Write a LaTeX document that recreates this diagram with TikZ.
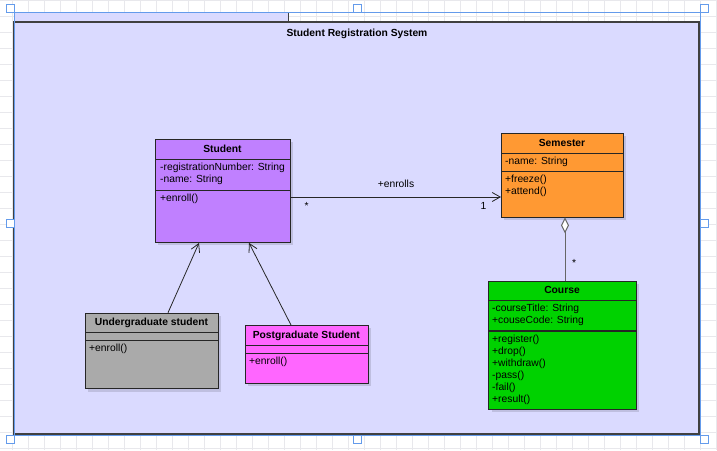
\documentclass[tikz,border=0pt]{standalone}
\usepackage{fontspec}
\setmainfont{Liberation Sans}
\usetikzlibrary{arrows.meta,shadows,calc}
\definecolor{framecol}{RGB}{218,218,255}
\definecolor{stucol}{RGB}{192,128,255}
\definecolor{semcol}{RGB}{255,153,51}
\definecolor{coucol}{RGB}{0,210,0}
\definecolor{ugcol}{RGB}{170,170,170}
\definecolor{pgcol}{RGB}{255,102,255}
\definecolor{selcol}{RGB}{100,155,235}
\definecolor{gridcol}{RGB}{232,232,236}
\tikzset{
  umlbox/.style={draw=black!85, line width=0.9pt, rectangle, inner sep=0pt, anchor=north west,
    drop shadow={shadow xshift=3pt, shadow yshift=-3pt, opacity=0.12, fill=black}},
  umlsep/.style={draw=black!85, line width=0.9pt},
  umltitle/.style={font=\fontsize{10.3}{12}\selectfont\bfseries, anchor=base, inner sep=0pt},
  umltext/.style={font=\fontsize{10.3}{12}\selectfont, align=left, anchor=base west, inner sep=0pt},
  openarrow/.style={draw=black!85, line width=0.8pt, -{Straight Barb[length=8pt,width=9pt]}},
  handle/.style={draw=selcol, fill=white, line width=0.9pt, minimum size=8pt, inner sep=0pt}
}
\begin{document}
\begin{tikzpicture}[x=1pt,y=-1pt]
\useasboundingbox (0,0) rectangle (717,450);
\fill[white] (0,0) rectangle (717,450);
\foreach \gx in {0,...,44} \draw[gridcol, line width=0.7pt] (12.7+16*\gx,0) -- (12.7+16*\gx,450);
\foreach \gy in {0,...,28} \draw[gridcol, line width=0.7pt] (0,0.7+16*\gy) -- (717,0.7+16*\gy);
\filldraw[fill=framecol, draw=black!75, line width=0.9pt] (14,12) rectangle (288,22);
\filldraw[fill=framecol, draw=black!75, line width=1.1pt] (14,22) rectangle (699,434);
\node[umltitle] (systitle) at (357,36.5) {Student Registration System};
\draw[selcol, line width=0.9pt] (14,12) rectangle (700,435);
\node[handle] (h1) at (10,8) {};
\node[handle] (h2) at (357,8) {};
\node[handle] (h3) at (704,8) {};
\node[handle] (h4) at (10,223) {};
\node[handle] (h5) at (704,223) {};
\node[handle] (h6) at (10,439) {};
\node[handle] (h7) at (357,439) {};
\node[handle] (h8) at (704,439) {};

\node[umlbox, fill=stucol, minimum width=135pt, minimum height=103pt] (student) at (155,139) {};
\draw[umlsep] (student.west |- 0,159.5) -- (student.east |- 0,159.5);
\draw[umlsep] (student.west |- 0,190) -- (student.east |- 0,190);
\node[umltitle] (stuname) at (222.5,152.5) {Student};
\node[umltext] (stuattr) at (160,182.5) {-registrationNumber: String\\-name: String};
\node[umltext] (stuop) at (160,201.5) {+enroll()};

\node[umlbox, fill=semcol, minimum width=122pt, minimum height=83.5pt] (semester) at (501,133) {};
\draw[umlsep] (semester.west |- 0,153.5) -- (semester.east |- 0,153.5);
\draw[umlsep] (semester.west |- 0,171.5) -- (semester.east |- 0,171.5);
\node[umltitle] (semname) at (562,146.5) {Semester};
\node[umltext] (semattr) at (505,164.5) {-name: String};
\node[umltext] (semop) at (505,194.5) {+freeze()\\+attend()};

\node[umlbox, fill=coucol, minimum width=147.5pt, minimum height=128pt] (course) at (488.3,280.5) {};
\draw[umlsep] (course.west |- 0,300.3) -- (course.east |- 0,300.3);
\draw[umlsep, line width=1.4pt] (course.west |- 0,330.8) -- (course.east |- 0,330.8);
\node[umltitle] (couname) at (562,293.5) {Course};
\node[umltext] (couattr) at (492,323.5) {-courseTitle: String\\+couseCode: String};
\node[umltext] (couop) at (492,402.5) {+register()\\+drop()\\+withdraw()\\-pass()\\-fail()\\+result()};

\node[umlbox, fill=ugcol, minimum width=133pt, minimum height=75.5pt] (ugrad) at (85,312.7) {};
\draw[umlsep] (ugrad.west |- 0,332.3) -- (ugrad.east |- 0,332.3);
\draw[umlsep] (ugrad.west |- 0,340.7) -- (ugrad.east |- 0,340.7);
\node[umltitle] (ugname) at (151.5,325.5) {Undergraduate student};
\node[umltext] (ugop) at (89,351.5) {+enroll()};

\node[umlbox, fill=pgcol, minimum width=122.7pt, minimum height=57.7pt] (pgrad) at (245,325) {};
\draw[umlsep] (pgrad.west |- 0,345.3) -- (pgrad.east |- 0,345.3);
\draw[umlsep] (pgrad.west |- 0,353.3) -- (pgrad.east |- 0,353.3);
\node[umltitle] (pgname) at (306.3,338.5) {Postgraduate Student};
\node[umltext] (pgop) at (249,364.5) {+enroll()};

\draw[openarrow] (168,0 |- ugrad.north) -- (199,0 |- student.south);
\draw[openarrow] (291,0 |- pgrad.north) -- (249,0 |- student.south);
\draw[openarrow] (student.east |- 0,197) -- (semester.west |- 0,197);
\node[umltext, anchor=base] (enrolls) at (396,187.5) {+enrolls};
\node[umltext, anchor=base] (stumult) at (306.5,209.5) {*};
\node[umltext, anchor=base] (semmult) at (483.5,209.5) {1};
\draw[draw=black!60, line width=1pt, {Diamond[fill=white,length=16pt,width=8pt]}-] (565,0 |- semester.south) -- (565,0 |- course.north);
\node[umltext, anchor=base] (coumult) at (574,266.5) {*};
\end{tikzpicture}
\end{document}
